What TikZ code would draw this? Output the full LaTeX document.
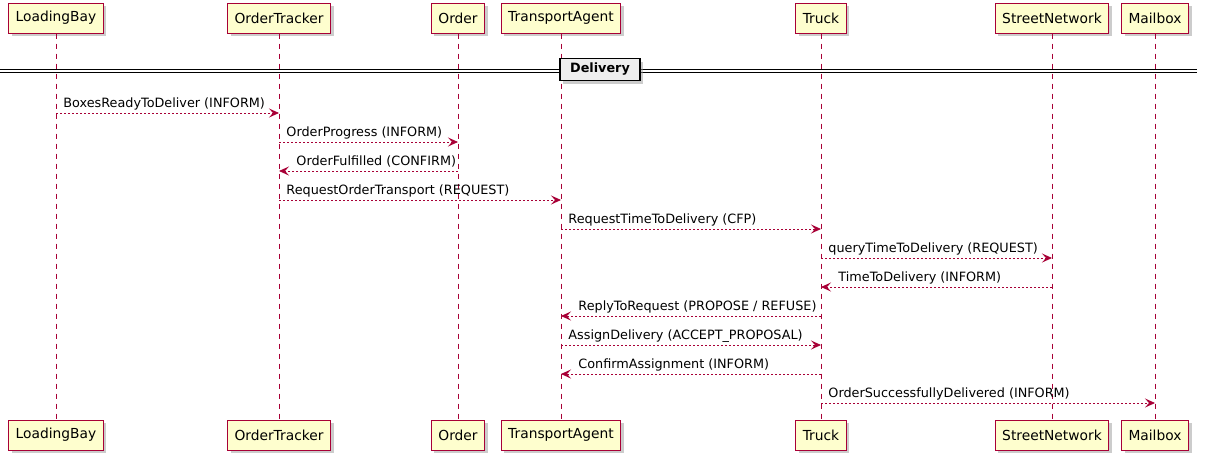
\documentclass[tikz,border=0pt]{standalone}
\usepackage{fontspec}
\setmainfont{DejaVu Sans}
\usetikzlibrary{arrows.meta,shadows}
\definecolor{umlred}{HTML}{A80036}
\definecolor{umlfill}{HTML}{FEFECE}
\definecolor{sepfill}{HTML}{EEEEEE}
\tikzset{
	actor/.style={draw=umlred,fill=umlfill,line width=1pt,minimum height=30pt,inner xsep=7pt,font=\fontsize{13.8}{16}\selectfont,drop shadow={shadow xshift=3pt,shadow yshift=-3pt,fill=black!40,opacity=0.5}},
	life/.style={umlred,line width=0.9pt,dash pattern=on 5pt off 5pt},
	msg/.style={umlred,line width=0.9pt,dash pattern=on 2pt off 2pt,-{Stealth[length=10pt,width=9pt,inset=4pt]}},
	lbl/.style={text=black,font=\fontsize{12.8}{15}\selectfont,anchor=base west,inner sep=0pt,yshift=6pt},
	sepbox/.style={draw,fill=sepfill,line width=1.5pt,minimum height=22pt,inner xsep=10pt,font=\bfseries\fontsize{12.8}{15}\selectfont,drop shadow={shadow xshift=3pt,shadow yshift=-3pt,fill=black!40,opacity=0.5}},
}
\begin{document}
\begin{tikzpicture}[x=1pt,y=-1pt]
	\useasboundingbox (0,0) rectangle (1207,461);
	% participants, top and bottom
	\node[actor] (lb) at (56,18) {LoadingBay};
	\node[actor] (ot) at (279,18) {OrderTracker};
	\node[actor] (or) at (458,18) {Order};
	\node[actor] (ta) at (561,18) {TransportAgent};
	\node[actor] (tr) at (821,18) {Truck};
	\node[actor] (sn) at (1052,18) {StreetNetwork};
	\node[actor] (mb) at (1155,18) {Mailbox};
	\node[actor] (lb2) at (56,435) {LoadingBay};
	\node[actor] (ot2) at (279,435) {OrderTracker};
	\node[actor] (or2) at (458,435) {Order};
	\node[actor] (ta2) at (561,435) {TransportAgent};
	\node[actor] (tr2) at (821,435) {Truck};
	\node[actor] (sn2) at (1052,435) {StreetNetwork};
	\node[actor] (mb2) at (1155,435) {Mailbox};
	% lifelines
	\foreach \a in {lb,ot,or,ta,tr,sn,mb}
		\draw[life] (\a.south) -- (\a2.north);
	% divider
	\draw[line width=1pt] (0,69) -- (1197,69);
	\draw[line width=1pt] (0,72) -- (1197,72);
	\node[sepbox] (dv) at (600,69.5) {Delivery};
	% messages
	\draw[msg] (lb |- 0,113) -- (ot |- 0,113) node[lbl,pos=0,xshift=7pt] {BoxesReadyToDeliver (INFORM)};
	\draw[msg] (ot |- 0,142) -- (or |- 0,142) node[lbl,pos=0,xshift=7pt] {OrderProgress (INFORM)};
	\draw[msg] (or |- 0,171) -- (ot |- 0,171) node[lbl,pos=1,xshift=17pt] {OrderFulfilled (CONFIRM)};
	\draw[msg] (ot |- 0,200) -- (ta |- 0,200) node[lbl,pos=0,xshift=7pt] {RequestOrderTransport (REQUEST)};
	\draw[msg] (ta |- 0,229) -- (tr |- 0,229) node[lbl,pos=0,xshift=7pt] {RequestTimeToDelivery (CFP)};
	\draw[msg] (tr |- 0,258) -- (sn |- 0,258) node[lbl,pos=0,xshift=7pt] {queryTimeToDelivery (REQUEST)};
	\draw[msg] (sn |- 0,287) -- (tr |- 0,287) node[lbl,pos=1,xshift=17pt] {TimeToDelivery (INFORM)};
	\draw[msg] (tr |- 0,316) -- (ta |- 0,316) node[lbl,pos=1,xshift=17pt] {ReplyToRequest (PROPOSE / REFUSE)};
	\draw[msg] (ta |- 0,345) -- (tr |- 0,345) node[lbl,pos=0,xshift=7pt] {AssignDelivery (ACCEPT\_PROPOSAL)};
	\draw[msg] (tr |- 0,374) -- (ta |- 0,374) node[lbl,pos=1,xshift=17pt] {ConfirmAssignment (INFORM)};
	\draw[msg] (tr |- 0,403) -- (mb |- 0,403) node[lbl,pos=0,xshift=7pt] {OrderSuccessfullyDelivered (INFORM)};
\end{tikzpicture}
\end{document}
